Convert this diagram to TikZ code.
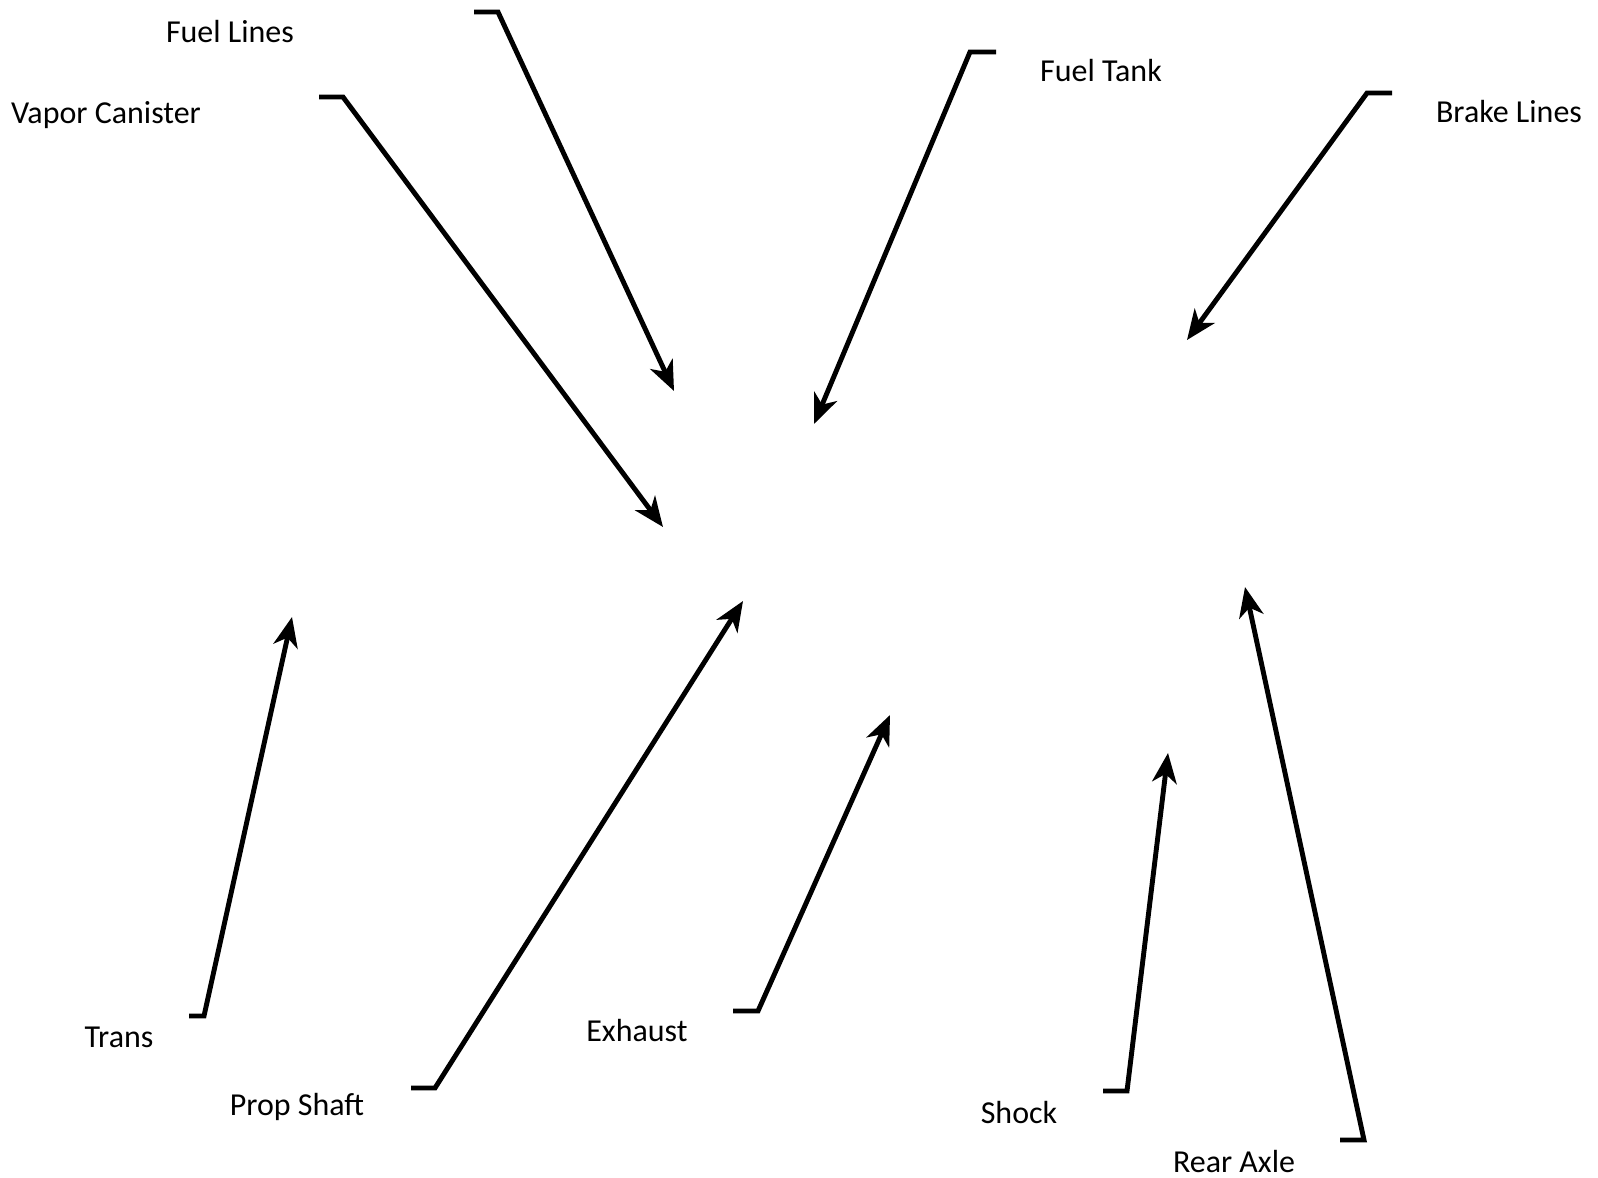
\documentclass[tikz,border=0pt]{standalone}
\usepackage{fontspec}
\setmainfont{Carlito}
\usepackage{tikz}
\usetikzlibrary{arrows.meta}
\tikzstyle{pointer} = [line width=2.8pt, -{Stealth[length=17pt,width=14pt,inset=5pt]}, line join=miter]
\tikzstyle{part} = [inner sep=0pt, font=\fontsize{18.2}{21}\selectfont]

\begin{document}
\begin{tikzpicture}[x=0.02cm, y=-0.02cm]
    \useasboundingbox[fill=white] (0,0) rectangle (1598,1177);
    % labels
    \node[part] (fuellines) at (230,32) {Fuel Lines};
    \node[part] (vapor) at (106,115) {Vapor Canister};
    \node[part] (tank) at (1101,71) {Fuel Tank};
    \node[part] (brake) at (1509,112) {Brake Lines};
    \node[part] (trans) at (119,1037) {Trans};
    \node[part] (prop) at (297,1107) {Prop Shaft};
    \node[part] (exhaust) at (637,1030) {Exhaust};
    \node[part] (shock) at (1019,1112) {Shock};
    \node[part] (axle) at (1234,1161) {Rear Axle};
    % leader ends
    \coordinate (fuellines-s) at (474,12);  \coordinate (fuellines-k) at (498,12);  \coordinate (fuellines-t) at (674,391);
    \coordinate (vapor-s) at (319,97);      \coordinate (vapor-k) at (343,97);      \coordinate (vapor-t) at (663,527);
    \coordinate (tank-s) at (996,52);       \coordinate (tank-k) at (970,52);       \coordinate (tank-t) at (814,424);
    \coordinate (brake-s) at (1392,93);     \coordinate (brake-k) at (1367,93);     \coordinate (brake-t) at (1187,340);
    \coordinate (trans-s) at (189,1016);    \coordinate (trans-k) at (204,1016);    \coordinate (trans-t) at (292,617);
    \coordinate (prop-s) at (411,1088);     \coordinate (prop-k) at (435,1088);     \coordinate (prop-t) at (743,601);
    \coordinate (exhaust-s) at (733,1011);  \coordinate (exhaust-k) at (758,1011);  \coordinate (exhaust-t) at (890,715);
    \coordinate (shock-s) at (1103,1091);   \coordinate (shock-k) at (1127,1091);   \coordinate (shock-t) at (1168,753);
    \coordinate (axle-s) at (1340,1140);    \coordinate (axle-k) at (1364,1140);    \coordinate (axle-t) at (1245,587);
    % leaders
    \foreach \p in {fuellines,vapor,tank,brake,trans,prop,exhaust,shock,axle}
        \draw[pointer] (\p-s) -- (\p-k) -- (\p-t);
\end{tikzpicture}
\end{document}
